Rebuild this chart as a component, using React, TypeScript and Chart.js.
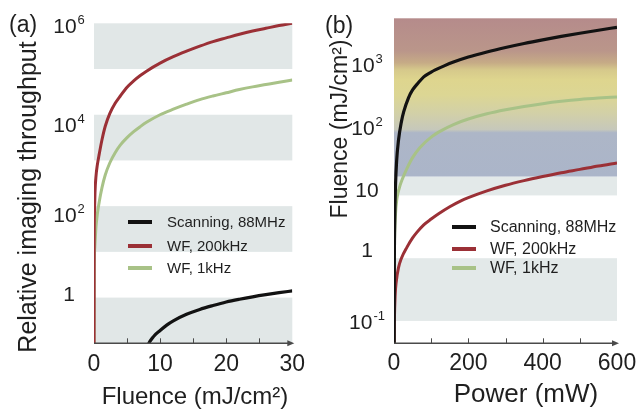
import React, { useEffect, useRef } from "react";
import { Chart, registerables } from "chart.js";

Chart.register(...registerables);

// ---------------- Panel (a): relative imaging throughput vs fluence ----------------
const fluenceScanA = [7, 8, 9, 10, 11, 12, 14, 16, 18, 20, 22, 24, 26, 28, 30];
const throughputScan = [0.02, 0.08, 0.14, 0.19, 0.25, 0.31, 0.43, 0.55, 0.67, 0.8, 0.92, 1.04, 1.16, 1.28, 1.4];

const fluenceWF200kA = [0, 0.02, 0.06, 0.15, 0.3, 0.5, 0.8, 1.2, 1.7, 2.4, 3.2, 4, 5, 6, 7, 8, 10, 12, 14, 16, 18, 20, 22, 24, 26, 28, 30];
const throughputWF200k = [0.001, 10, 63, 200, 450, 790, 1400, 2800, 5600, 10700, 17800, 26000, 40000, 55000, 72000, 91000, 135000, 186000, 245000, 316000, 398000, 479000, 575000, 676000, 776000, 891000, 1000000];

const fluenceWF1kA = [0, 0.04, 0.12, 0.3, 0.5, 0.8, 1.2, 1.7, 2.4, 3.2, 4, 5, 6, 7, 8, 10, 12, 14, 16, 18, 20, 22, 24, 26, 28, 30];
const throughputWF1k = [0.001, 3.2, 12.6, 35, 66, 126, 251, 479, 891, 1480, 2190, 3160, 4270, 5500, 6920, 10000, 13200, 17000, 21400, 25700, 30200, 35500, 40700, 45700, 51300, 57500];

const xTickLabelsA = [0, 10, 20, 30];
const xMinorTicksA = [5, 10, 15, 20, 25];
const yTickValuesA = [1e6, 1e4, 1e2, 1];
const yTickBaseA = ["10", "10", "10", "1"];
const yTickExpA = ["6", "4", "2", ""];
const bandRangesA = [[1e5, 1e6], [1e3, 1e4], [10, 100], [0.1, 1]];

// ---------------- Panel (b): fluence vs power ----------------
const powerScanB = [0, 1, 2, 4, 7, 12, 20, 26, 39, 50, 66, 80, 100, 111, 135, 160, 200, 250, 300, 350, 400, 450, 500, 550, 600];
const fluenceScanB = [0.005, 1, 4, 14, 35, 75, 150, 215, 360, 480, 630, 776, 923, 1000, 1160, 1334, 1603, 1936, 2280, 2642, 3020, 3420, 3846, 4295, 4775];

const powerWF200kB = [0, 0.5, 1, 3, 6, 12, 20, 35, 50, 62, 80, 100, 120, 150, 180, 200, 250, 300, 350, 400, 450, 500, 550, 600];
const fluenceWF200kB = [0.005, 0.06, 0.1, 0.25, 0.42, 0.7, 1.0, 1.5, 2.1, 2.6, 3.4, 4.2, 5.1, 6.6, 8.2, 9.2, 11.8, 14.5, 17.2, 20, 23, 26, 29.5, 33];

const powerWF1kB = [0, 0.5, 1.5, 4, 8, 14, 22, 35, 50, 70, 100, 130, 160, 200, 250, 300, 350, 400, 450, 500, 550, 600];
const fluenceWF1kB = [0.005, 0.5, 2, 5, 9, 13, 18, 27, 40, 58, 85, 110, 135, 165, 200, 232, 262, 290, 316, 339, 357, 372];

const xTickLabelsB = [0, 200, 400, 600];
const xMinorTicksB = [100, 200, 300, 400, 500];
const yTickValuesB = [1e3, 1e2, 10, 1, 0.1];
const yTickBaseB = ["10", "10", "10", "1", "10"];
const yTickExpB = ["3", "2", "", "", "-1"];
const bandRangesB = [[0.1, 1], [10, 20]];
const zoneStopsB = [20, 100, 112, 200, 400, 700, 1000, 1300, 2000, 6650];
const zoneColorsB = ["#abb5c9", "#adb6c7", "#c6c8bb", "#d2d0a8", "#dcd694", "#ded58e", "#d6c98b", "#c6ab86", "#ba968a", "#b58b8b"];

const seriesLabels = ["Scanning, 88MHz", "WF, 200kHz", "WF, 1kHz"];
const seriesColors = ["#121212", "#9b3036", "#a8c287"];

const FONT = '"Liberation Sans", Arial, Helvetica, sans-serif';
const TEXT = "#1f1f1f";

function pts(xs: number[], ys: number[]) {
  return xs.map((x, i) => ({ x, y: ys[i] }));
}

type Decor = {
  bands: number[][];
  bandColor: string;
  zoneStops?: number[];
  zoneColors?: string[];
  xLabels: number[];
  xMinor: number[];
  xLabelBaseline: number;
  xLabelSize: number;
  yValues: number[];
  yBase: string[];
  yExp: string[];
  yNudge: number[];
  yLabelCenterX: number;
  yLabelSize: number;
  xTitle: string;
  xTitleX: number;
  xTitleY: number;
  xTitleSize: number;
  yTitle: string;
  yTitleX: number;
  yTitleY: number;
  yTitleSize: number;
  panel: string;
  panelX: number;
  panelY: number;
  legendLineX: number;
  legendTextX: number;
  legendRows: number[];
  legendSize: number;
};

function decorPlugin(d: Decor) {
  return {
    id: "decor",
    beforeDatasetsDraw(chart: any) {
      const { ctx, chartArea, scales } = chart;
      const { left, right, top } = chartArea;
      const ys = scales.y;
      ctx.save();
      ctx.fillStyle = d.bandColor;
      for (const b of d.bands) {
        const p1 = ys.getPixelForValue(b[1]);
        const p0 = ys.getPixelForValue(b[0]);
        ctx.fillRect(left, p1, right - left, p0 - p1);
      }
      if (d.zoneStops && d.zoneColors) {
        const pFrom = ys.getPixelForValue(d.zoneStops[0]);
        const pTo = top;
        const g = ctx.createLinearGradient(0, pFrom, 0, pTo);
        d.zoneStops.forEach((v, i) => {
          const off = (pFrom - ys.getPixelForValue(v)) / (pFrom - pTo);
          g.addColorStop(Math.min(1, Math.max(0, off)), d.zoneColors![i]);
        });
        ctx.fillStyle = g;
        ctx.fillRect(left, pTo, right - left, pFrom - pTo);
      }
      ctx.restore();
    },
    afterDatasetsDraw(chart: any) {
      const { ctx, chartArea, scales } = chart;
      const { left, right, bottom } = chartArea;
      const xs = scales.x;
      const ys = scales.y;
      ctx.save();
      // x axis line with arrow
      ctx.strokeStyle = "#4a4a4a";
      ctx.fillStyle = "#4a4a4a";
      ctx.lineWidth = 1.5;
      ctx.beginPath();
      ctx.moveTo(left, bottom);
      ctx.lineTo(right - 2, bottom);
      ctx.stroke();
      ctx.beginPath();
      ctx.moveTo(right + 2, bottom);
      ctx.lineTo(right - 5, bottom - 3);
      ctx.lineTo(right - 5, bottom + 3);
      ctx.closePath();
      ctx.fill();
      ctx.lineWidth = 1;
      for (const v of d.xMinor) {
        const px = Math.round(xs.getPixelForValue(v)) + 0.5;
        ctx.beginPath();
        ctx.moveTo(px, bottom);
        ctx.lineTo(px, bottom - 5);
        ctx.stroke();
      }
      // x tick labels
      ctx.fillStyle = TEXT;
      ctx.textAlign = "center";
      ctx.textBaseline = "alphabetic";
      ctx.font = `${d.xLabelSize}px ${FONT}`;
      for (const v of d.xLabels) {
        ctx.fillText(String(v), xs.getPixelForValue(v), d.xLabelBaseline);
      }
      // y tick labels with superscripts
      const bigF = `${d.yLabelSize}px ${FONT}`;
      const supSize = Math.round(d.yLabelSize * 0.62);
      const supF = `${supSize}px ${FONT}`;
      ctx.textAlign = "left";
      d.yValues.forEach((v, i) => {
        const base = d.yBase[i];
        const exp = d.yExp[i];
        ctx.font = bigF;
        const w1 = ctx.measureText(base).width;
        ctx.font = supF;
        const w2 = exp ? ctx.measureText(exp).width + 1 : 0;
        const x0 = d.yLabelCenterX - (w1 + w2) / 2;
        const yb = ys.getPixelForValue(v) + d.yNudge[i];
        ctx.font = bigF;
        ctx.fillText(base, x0, yb);
        if (exp) {
          ctx.font = supF;
          ctx.fillText(exp, x0 + w1 + 1, yb - d.yLabelSize * 0.42);
        }
      });
      // axis titles
      ctx.textAlign = "center";
      ctx.font = `${d.xTitleSize}px ${FONT}`;
      ctx.fillText(d.xTitle, d.xTitleX, d.xTitleY);
      ctx.save();
      ctx.translate(d.yTitleX, d.yTitleY);
      ctx.rotate(-Math.PI / 2);
      ctx.font = `${d.yTitleSize}px ${FONT}`;
      ctx.fillText(d.yTitle, 0, 0);
      ctx.restore();
      // panel letter
      ctx.textAlign = "left";
      ctx.font = `23px ${FONT}`;
      ctx.fillText(d.panel, d.panelX, d.panelY);
      // legend
      ctx.font = `${d.legendSize}px ${FONT}`;
      ctx.textBaseline = "middle";
      chart.data.datasets.forEach((ds: any, i: number) => {
        const y = d.legendRows[i];
        ctx.strokeStyle = ds.borderColor;
        ctx.lineWidth = 4;
        ctx.beginPath();
        ctx.moveTo(d.legendLineX, y);
        ctx.lineTo(d.legendLineX + 24, y);
        ctx.stroke();
        ctx.fillStyle = TEXT;
        ctx.fillText(ds.label, d.legendTextX, y + 1);
      });
      ctx.restore();
    },
  };
}

function makeDatasets(series: { x: number[]; y: number[] }[]) {
  return series.map((s, i) => ({
    label: seriesLabels[i],
    data: pts(s.x, s.y),
    borderColor: seriesColors[i],
    backgroundColor: seriesColors[i],
    borderWidth: i === 0 ? 3.2 : 3,
    pointRadius: 0,
    fill: false,
    cubicInterpolationMode: "monotone" as const,
  }));
}

function makeConfig(
  datasets: any[],
  xMax: number,
  yMin: number,
  yMax: number,
  padding: any,
  decor: Decor
): any {
  return {
    type: "line",
    data: { datasets },
    options: {
      responsive: false,
      maintainAspectRatio: false,
      animation: false,
      devicePixelRatio: 1,
      layout: { padding },
      scales: {
        x: { type: "linear", min: 0, max: xMax, display: false },
        y: { type: "logarithmic", min: yMin, max: yMax, display: false },
      },
      plugins: { legend: { display: false }, tooltip: { enabled: false } },
    },
    plugins: [decorPlugin(decor)],
  };
}

export default function App() {
  const refA = useRef<HTMLCanvasElement>(null);
  const refB = useRef<HTMLCanvasElement>(null);

  useEffect(() => {
    const dsA = makeDatasets([
      { x: fluenceScanA, y: throughputScan },
      { x: fluenceWF200kA, y: throughputWF200k },
      { x: fluenceWF1kA, y: throughputWF1k },
    ]);
    const dsB = makeDatasets([
      { x: powerScanB, y: fluenceScanB },
      { x: powerWF200kB, y: fluenceWF200kB },
      { x: powerWF1kB, y: fluenceWF1kB },
    ]);
    const decorA: Decor = {
      bands: bandRangesA,
      bandColor: "#e1e7e7",
      xLabels: xTickLabelsA,
      xMinor: xMinorTicksA,
      xLabelBaseline: 371,
      xLabelSize: 23,
      yValues: yTickValuesA,
      yBase: yTickBaseA,
      yExp: yTickExpA,
      yNudge: [10, 17, 16, 3],
      yLabelCenterX: 69,
      yLabelSize: 21,
      xTitle: "Fluence (mJ/cm²)",
      xTitleX: 195,
      xTitleY: 404,
      xTitleSize: 24,
      yTitle: "Relative imaging throughput",
      yTitleX: 36,
      yTitleY: 197,
      yTitleSize: 25,
      panel: "(a)",
      panelX: 9,
      panelY: 32,
      legendLineX: 128,
      legendTextX: 167,
      legendRows: [222, 246, 268],
      legendSize: 15,
    };
    const decorB: Decor = {
      bands: bandRangesB,
      bandColor: "#e3e9e9",
      zoneStops: zoneStopsB,
      zoneColors: zoneColorsB,
      xLabels: xTickLabelsB,
      xMinor: xMinorTicksB,
      xLabelBaseline: 370,
      xLabelSize: 23,
      yValues: yTickValuesB,
      yBase: yTickBaseB,
      yExp: yTickExpB,
      yNudge: [2, 2, 2, -1, 8],
      yLabelCenterX: 49,
      yLabelSize: 21,
      xTitle: "Power (mW)",
      xTitleX: 208,
      xTitleY: 402,
      xTitleSize: 26,
      yTitle: "Fluence (mJ/cm²)",
      yTitleX: 29,
      yTitleY: 129,
      yTitleSize: 23,
      panel: "(b)",
      panelX: 7,
      panelY: 33,
      legendLineX: 134,
      legendTextX: 172,
      legendRows: [227, 249, 268],
      legendSize: 16,
    };
    const chartA = new Chart(
      refA.current!,
      makeConfig(dsA, 30, 0.1, 1e6, { left: 94, right: 25.7, top: 23.3, bottom: 65.7 }, decorA)
    );
    const chartB = new Chart(
      refB.current!,
      makeConfig(dsB, 600, 0.044, 6650, { left: 76, right: 20, top: 18.3, bottom: 65.7 }, decorB)
    );
    return () => {
      chartA.destroy();
      chartB.destroy();
    };
  }, []);

  return (
    <div style={{ position: "fixed", left: 0, top: 0, width: 637, height: 409, background: "#ffffff", overflow: "hidden" }}>
      <canvas ref={refA} width={318} height={409} style={{ position: "absolute", left: 0, top: 0 }} />
      <canvas ref={refB} width={319} height={409} style={{ position: "absolute", left: 318, top: 0 }} />
    </div>
  );
}
